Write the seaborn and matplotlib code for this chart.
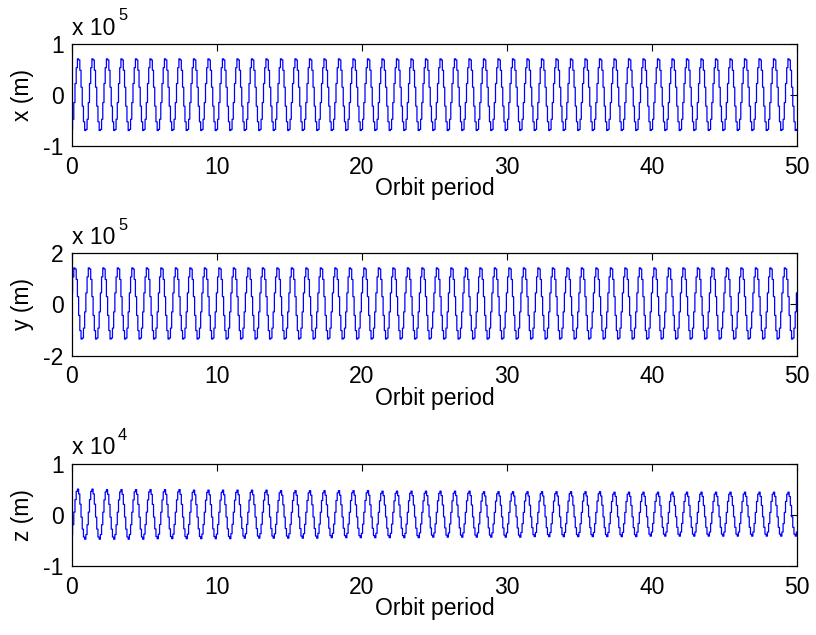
import numpy as np
import matplotlib
matplotlib.use("Agg")
import matplotlib.pyplot as plt
import seaborn as sns

# ── data ─────────────────────────────────────────────────────────────────────
# one orbit of each trace, 12 samples, normalised to +-1
x_orbit = [-0.95, -0.67, -0.21, 0.31, 0.74, 0.98, 0.95, 0.67, 0.21, -0.31, -0.74, -0.98]
y_orbit = [0.31, 0.74, 0.98, 0.95, 0.67, 0.21, -0.31, -0.74, -0.98, -0.95, -0.67, -0.21]
z_orbit = [-0.81, -0.41, 0.10, 0.59, 0.91, 1.00, 0.81, 0.41, -0.10, -0.59, -0.91, -1.00]

# peak / trough level of every orbit (x, y in 1e5 m, z in 1e4 m)
x_peak = [0.72, 0.72, 0.72, 0.72, 0.72, 0.72, 0.72, 0.72, 0.72, 0.72,
          0.72, 0.72, 0.72, 0.72, 0.72, 0.72, 0.72, 0.72, 0.72, 0.72,
          0.72, 0.72, 0.72, 0.72, 0.72, 0.72, 0.72, 0.72, 0.72, 0.72,
          0.72, 0.72, 0.72, 0.72, 0.72, 0.72, 0.72, 0.72, 0.72, 0.72,
          0.72, 0.72, 0.72, 0.72, 0.72, 0.72, 0.72, 0.72, 0.72, 0.72]
x_trough = [0.71, 0.71, 0.71, 0.71, 0.71, 0.71, 0.71, 0.71, 0.71, 0.71,
            0.71, 0.71, 0.71, 0.71, 0.71, 0.71, 0.71, 0.71, 0.71, 0.71,
            0.71, 0.71, 0.71, 0.71, 0.71, 0.71, 0.71, 0.71, 0.71, 0.71,
            0.71, 0.71, 0.71, 0.71, 0.71, 0.71, 0.71, 0.71, 0.71, 0.71,
            0.71, 0.71, 0.71, 0.71, 0.71, 0.71, 0.71, 0.71, 0.71, 0.71]
y_peak = [1.46, 1.46, 1.46, 1.46, 1.46, 1.46, 1.46, 1.46, 1.46, 1.46,
          1.46, 1.46, 1.46, 1.46, 1.46, 1.46, 1.46, 1.46, 1.46, 1.46,
          1.46, 1.46, 1.46, 1.46, 1.46, 1.46, 1.46, 1.46, 1.46, 1.46,
          1.46, 1.46, 1.46, 1.46, 1.46, 1.46, 1.46, 1.46, 1.46, 1.46,
          1.46, 1.46, 1.46, 1.46, 1.46, 1.46, 1.46, 1.46, 1.46, 1.46]
y_trough = [1.38, 1.38, 1.38, 1.38, 1.38, 1.38, 1.38, 1.38, 1.38, 1.38,
            1.38, 1.38, 1.38, 1.38, 1.38, 1.38, 1.38, 1.38, 1.38, 1.38,
            1.38, 1.38, 1.38, 1.38, 1.38, 1.38, 1.38, 1.38, 1.38, 1.38,
            1.38, 1.38, 1.38, 1.38, 1.38, 1.38, 1.38, 1.38, 1.38, 1.38,
            1.38, 1.38, 1.38, 1.38, 1.38, 1.38, 1.38, 1.38, 1.38, 1.38]
z_peak = [0.50, 0.50, 0.49, 0.49, 0.49, 0.49, 0.49, 0.49, 0.48, 0.48,
          0.48, 0.48, 0.48, 0.48, 0.47, 0.47, 0.47, 0.47, 0.47, 0.47,
          0.47, 0.46, 0.46, 0.46, 0.46, 0.46, 0.46, 0.46, 0.45, 0.45,
          0.45, 0.45, 0.45, 0.45, 0.45, 0.45, 0.45, 0.44, 0.44, 0.44,
          0.44, 0.44, 0.44, 0.44, 0.44, 0.44, 0.44, 0.44, 0.44, 0.44]
z_trough = [0.48, 0.48, 0.48, 0.48, 0.48, 0.47, 0.47, 0.47, 0.47, 0.47,
            0.47, 0.46, 0.46, 0.46, 0.46, 0.46, 0.46, 0.45, 0.45, 0.45,
            0.45, 0.45, 0.45, 0.45, 0.44, 0.44, 0.44, 0.44, 0.44, 0.44,
            0.44, 0.43, 0.43, 0.43, 0.43, 0.43, 0.43, 0.43, 0.43, 0.42,
            0.42, 0.42, 0.42, 0.42, 0.42, 0.42, 0.42, 0.42, 0.42, 0.42]

n_orbits = 50
samples_per_orbit = len(x_orbit)

panels = [
    ("x (m)", x_orbit, x_peak, x_trough, [-1, 0, 1], "5"),
    ("y (m)", y_orbit, y_peak, y_trough, [-2, 0, 2], "5"),
    ("z (m)", z_orbit, z_peak, z_trough, [-1, 0, 1], "4"),
]


def build_trace(orbit, peaks, troughs):
    shape = np.array(orbit)
    parts = [np.where(shape > 0, shape * p, shape * q) for p, q in zip(peaks, troughs)]
    parts.append(np.array([shape[0] * (peaks[-1] if shape[0] > 0 else troughs[-1])]))
    return np.concatenate(parts)


sns.set_theme(style="white")
plt.rcParams["font.family"] = ["Liberation Sans", "DejaVu Sans"]
plt.rcParams["axes.unicode_minus"] = False
plt.rcParams["text.color"] = "black"
plt.rcParams["axes.labelcolor"] = "black"
FS = 16.5

fig = plt.figure(figsize=(8.16, 6.35), dpi=100)
bottoms = [0.770, 0.440, 0.109]
t = np.arange(n_orbits * samples_per_orbit + 1) / samples_per_orbit

for (label, orbit, peaks, troughs, yticks, expo), b in zip(panels, bottoms):
    ax = fig.add_axes([0.0882, b, 0.8885, 0.161])
    vals = build_trace(orbit, peaks, troughs)
    sns.lineplot(x=t, y=vals, ax=ax, color="#0000FF", linewidth=0.9,
                 drawstyle="steps-mid", estimator=None, sort=False)
    ax.set_xlim(0, 50)
    ax.set_ylim(yticks[0], yticks[-1])
    ax.set_xticks([0, 10, 20, 30, 40, 50])
    ax.set_yticks(yticks)
    ax.tick_params(direction="in", length=5, width=0.8, top=True, right=True,
                   labelsize=FS, colors="black")
    ax.tick_params(axis="x", pad=7)
    ax.tick_params(axis="y", pad=6)
    for s in ax.spines.values():
        s.set_color("black")
        s.set_linewidth(0.9)
    ax.set_xlabel("Orbit period", fontsize=FS, labelpad=-1)
    ax.set_ylabel(label, fontsize=FS, labelpad=7)
    head = ax.text(0.0, 1.04, "x 10", transform=ax.transAxes, fontsize=FS,
                   ha="left", va="bottom")
    ax.annotate(expo, xy=(1.0, 0.72), xycoords=head, xytext=(2, 0),
                textcoords="offset points", fontsize=FS * 0.72,
                ha="left", va="bottom")
    ax.grid(False)

fig.savefig("out.png", dpi=100, facecolor="white")
